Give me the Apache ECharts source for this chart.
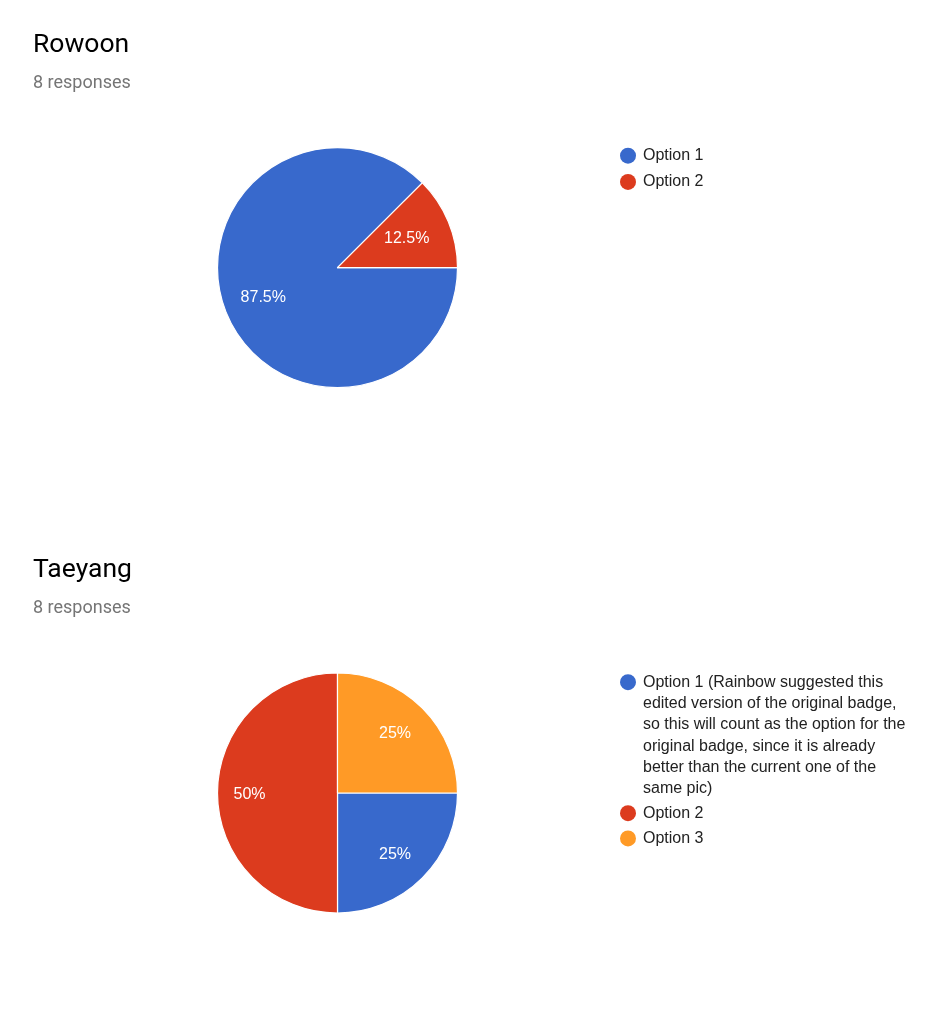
<!DOCTYPE html>
<html>
<head>
<meta charset="utf-8">
<title>Rowoon / Taeyang</title>
<script src="https://cdn.jsdelivr.net/npm/echarts@6/dist/echarts.min.js"></script>
<style>
html, body { margin: 0; padding: 0; background: #fff; }
#main { width: 942px; height: 1034px; }
</style>
</head>
<body>
<div id="main"></div>
<script>
// values
var rowoonNames = ['Option 1', 'Option 2'];
var rowoonValues = [7, 1];
var taeyangNames = [
    'Option 1 (Rainbow suggested this\nedited version of the original badge,\nso this will count as the option for the\noriginal badge, since it is already\nbetter than the current one of the\nsame pic)',
    'Option 2',
    'Option 3'
];
var taeyangValues = [2, 4, 2];
var responses = '8 responses';

var colors = ['#3869CC', '#DC3B1E', '#FF9A26'];
// how far out each percent label sits, as [dx, dy] from the default inside spot
var rowoonLabelOffsets = [[-16, 6], [11, -5]];
var taeyangLabelOffsets = [[13, 17], [-25, 2], [13, -15]];

var chart = echarts.init(document.getElementById('main'));

var makeData = function (names, values, offsets) {
    return names.map(function (name, i) {
        return {
            name: name,
            value: values[i],
            itemStyle: { color: colors[i] },
            label: { offset: offsets[i] }
        };
    });
};

var makePie = function (name, cy, names, values, offsets) {
    return {
        name: name,
        type: 'pie',
        center: [337.5, cy],
        radius: [0, 120],
        startAngle: 0,
        clockwise: true,
        avoidLabelOverlap: false,
        silent: true,
        animation: false,
        itemStyle: { borderColor: '#fff', borderWidth: 1.2 },
        label: {
            show: true,
            position: 'inside',
            formatter: '{d}%',
            color: '#fff',
            fontFamily: 'Liberation Sans',
            fontSize: 16
        },
        labelLine: { show: false },
        data: makeData(names, values, offsets)
    };
};

var makeTitle = function (name, top) {
    return {
        text: name,
        subtext: responses,
        left: 33,
        top: top,
        padding: 0,
        itemGap: 15.5,
        textStyle: { fontFamily: 'Roboto', fontSize: 26.5, fontWeight: 'normal', color: '#000' },
        subtextStyle: { fontFamily: 'Roboto', fontSize: 18, color: '#757575' }
    };
};

var legendBase = function (top, names, itemGap) {
    return {
        left: 620,
        top: top,
        padding: 0,
        orient: 'vertical',
        itemWidth: 16,
        itemHeight: 16,
        itemGap: itemGap,
        selectedMode: false,
        icon: 'circle',
        itemStyle: { borderWidth: 0 },
        textStyle: {
            fontFamily: 'Liberation Sans',
            fontSize: 16,
            color: '#222',
            lineHeight: 21.3,
            padding: [0, 0, 0, 2]
        },
        data: names
    };
};

// the long entry has its dot on the first text line, so the icon box is as tall as the text
var longLegend = legendBase(671.5, [taeyangNames[0]], 0);
longLegend.itemHeight = 128;
longLegend.icon = 'path://M8 2.7a8 8 0 1 1-.01 0zM8 0L8 0M8 128L8 128';

chart.setOption({
    backgroundColor: '#fff',
    animation: false,
    title: [makeTitle('Rowoon', 32), makeTitle('Taeyang', 556.5)],
    tooltip: { show: false },
    legend: [
        legendBase(145, rowoonNames, 5),
        longLegend,
        legendBase(802.5, taeyangNames.slice(1), 4)
    ],
    series: [
        makePie('Rowoon', 267.7, rowoonNames, rowoonValues, rowoonLabelOffsets),
        makePie('Taeyang', 793, taeyangNames, taeyangValues, taeyangLabelOffsets)
    ]
});
</script>
</body>
</html>
